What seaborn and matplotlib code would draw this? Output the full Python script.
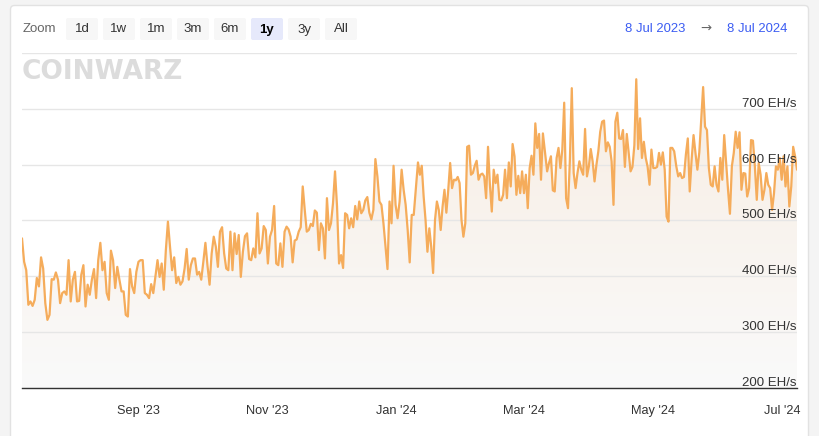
import numpy as np
import pandas as pd
import matplotlib
matplotlib.use("Agg")
import matplotlib.pyplot as plt
import matplotlib.dates as mdates
from matplotlib.patches import FancyBboxPatch
from matplotlib.colors import LinearSegmentedColormap
import seaborn as sns

# network hashrate (EH/s), in six reading windows
hash_jul_sep = [468, 426, 411, 349, 355, 347, 358, 397, 382, 434, 414, 352, 322, 331, 395, 394,
                407, 394, 352, 370, 373, 367, 429, 355, 394, 408, 355, 356, 403, 420, 346, 385,
                367, 394, 413, 361, 429, 460, 411, 426, 370, 358, 446, 429, 379, 417, 394, 373,
                373, 331, 328, 413, 382, 370, 408, 426, 429, 429, 370, 367, 361, 386, 370]
hash_sep_nov = [429, 399, 423, 376, 447, 498, 453, 411, 434, 388, 399, 385, 391, 414, 449, 394,
                420, 432, 432, 403, 408, 394, 426, 460, 419, 385, 441, 471, 453, 417, 480, 488,
                441, 414, 411, 480, 411, 477, 440, 474, 399, 444, 472, 477, 431, 429, 450, 434,
                513, 441, 450, 490, 483, 423, 471, 483, 526, 423, 420, 459, 417]
hash_nov_jan = [480, 489, 484, 471, 425, 464, 466, 480, 488, 561, 519, 480, 483, 494, 490, 518,
                514, 447, 495, 486, 432, 540, 483, 495, 531, 588, 525, 423, 438, 415, 513, 510,
                486, 504, 488, 526, 502, 534, 513, 519, 536, 542, 514, 502, 519, 610, 579, 534,
                528, 495, 453, 413, 534, 495, 598, 528, 504, 534, 591, 555, 528, 483, 425, 510, 510]
hash_jan_mar = [604, 582, 598, 543, 501, 444, 486, 453, 406, 501, 534, 519, 483, 525, 555, 514,
                555, 603, 558, 573, 572, 578, 567, 501, 471, 495, 632, 634, 582, 585, 598, 607,
                573, 582, 584, 579, 540, 632, 564, 516, 591, 567, 582, 537, 536, 546, 591, 540,
                604, 561, 637, 615, 546, 580, 549, 588, 549, 582, 522, 594, 616, 582, 674, 630,
                655, 573, 656]
hash_mar_may = [588, 603, 615, 554, 552, 612, 630, 594, 627, 711, 540, 522, 609, 737, 585, 558,
                585, 606, 591, 582, 664, 579, 597, 628, 606, 570, 600, 624, 659, 677, 679, 624,
                640, 632, 606, 528, 677, 693, 647, 646, 662, 596, 655, 621, 588, 596, 635, 753,
                628, 683, 612, 641, 612, 596, 564, 627, 594, 594, 596, 621, 600, 622, 591, 507,
                498, 630, 630, 624]
hash_may_jul = [597, 579, 585, 576, 578, 618, 647, 552, 609, 653, 621, 591, 622, 680, 739, 668,
                662, 594, 564, 561, 597, 564, 552, 612, 573, 653, 603, 555, 512, 597, 621, 659,
                630, 658, 555, 585, 584, 543, 558, 644, 643, 597, 537, 603, 582, 537, 555, 585,
                564, 558, 519, 549, 597, 591, 612, 573, 615, 561, 597, 525, 561, 632, 615, 591]

windows = [("2023-07-08", "2023-09-08"), ("2023-09-10", "2023-11-08"),
           ("2023-11-09", "2024-01-09"), ("2024-01-11", "2024-03-10"),
           ("2024-03-12", "2024-05-11"), ("2024-05-12", "2024-07-08")]

range_start, range_end = "2023-07-08", "2024-07-08"
y_ticks = [200, 300, 400, 500, 600, 700, 800]
y_labels = ["200 EH/s", "300 EH/s", "400 EH/s", "500 EH/s", "600 EH/s", "700 EH/s", ""]
x_ticks = ["2023-09-01", "2023-11-01", "2024-01-01", "2024-03-01", "2024-05-01", "2024-07-01"]
x_labels = ["Sep '23", "Nov '23", "Jan '24", "Mar '24", "May '24", "Jul '24"]
zoom_buttons = ["1d", "1w", "1m", "3m", "6m", "1y", "3y", "All"]
active_button = "1y"

frames = []
for vals, (d0, d1) in zip([hash_jul_sep, hash_sep_nov, hash_nov_jan,
                           hash_jan_mar, hash_mar_may, hash_may_jul], windows):
    frames.append(pd.DataFrame({"date": pd.date_range(d0, d1, periods=len(vals)),
                                "hashrate": vals}))
df = pd.concat(frames, ignore_index=True)

sns.set_style("white")
plt.rcParams["font.family"] = ["Liberation Sans", "DejaVu Sans"]

fig = plt.figure(figsize=(8.2, 4.36), dpi=100)
fig.patch.set_facecolor("#f4f4f4")

# card + toolbar, drawn in pixel space
bg = fig.add_axes([0, 0, 1, 1])
bg.set_xlim(0, 820)
bg.set_ylim(436, 0)
bg.axis("off")
bg.add_patch(FancyBboxPatch((10.5, 5.5), 798, 440, boxstyle="round,pad=0,rounding_size=4",
                            fc="white", ec="#e2e2e2", lw=1))
bg.text(23, 29.5, "Zoom", color="#666666", fontsize=9.5, va="center", ha="left")
for i, lab in enumerate(zoom_buttons):
    bx = 66 + i * 37
    on = lab == active_button
    bg.add_patch(FancyBboxPatch((bx, 18), 32, 22, boxstyle="round,pad=0,rounding_size=2",
                                fc="#e6e9fb" if on else "#f7f7f7", ec="none"))
    bg.text(bx + 16, 29.5, lab, color="#000000" if on else "#333333", fontsize=9.5,
            fontweight="bold" if on else "normal", ha="center", va="center")
bg.text(655, 28.5, "8 Jul 2023", color="#3b5cf2", fontsize=9.4, ha="center", va="center")
bg.text(706, 28.5, "\u2192", color="#666666", fontsize=9.5, ha="center", va="center",
        family="DejaVu Sans")
bg.text(757, 28.5, "8 Jul 2024", color="#3b5cf2", fontsize=9.4, ha="center", va="center")
bg.text(22, 72, "COINWARZ", color="#dcdcdc", fontsize=19, fontweight="heavy",
        family="DejaVu Sans", ha="left", va="center")

ax = fig.add_axes([22 / 820, 1 - 388 / 436, 775 / 820, 335 / 436])
ax.set_facecolor("none")

# soft gradient under the line
poly = ax.fill_between(df["date"], df["hashrate"], 200, facecolor="none", edgecolor="none")
x0 = mdates.date2num(pd.Timestamp(range_start))
x1 = mdates.date2num(pd.Timestamp(range_end))
cmap = LinearSegmentedColormap.from_list("fill", ["#fafafa", "#f7ece1"])
im = ax.imshow(np.linspace(0, 1, 256).reshape(-1, 1), extent=[x0, x1, 200, 800],
               origin="lower", aspect="auto", cmap=cmap, zorder=0.5)
im.set_clip_path(poly.get_paths()[0], transform=ax.transData)

sns.lineplot(data=df, x="date", y="hashrate", ax=ax, color="#f5ac5b", linewidth=1.6, zorder=3)

ax.set_xlim(pd.Timestamp(range_start), pd.Timestamp(range_end))
ax.set_ylim(200, 800)
ax.set_yticks(y_ticks)
ax.yaxis.grid(True, color="#e6e6e6", lw=1)
ax.set_axisbelow(True)
ax.tick_params(axis="y", length=0, labelleft=False)
for v, lab in zip(y_ticks, y_labels):
    ax.annotate(lab, xy=(1, v), xycoords=("axes fraction", "data"), xytext=(0, 1.5),
                textcoords="offset points", ha="right", va="baseline", fontsize=9.5,
                color="#333333", zorder=5)

ax.set_xticks(pd.to_datetime(x_ticks))
ax.set_xticklabels(x_labels)
ax.tick_params(axis="x", length=7, width=1, color="#333333", labelsize=9.2,
               labelcolor="#333333", pad=5)
ax.set_xlabel("")
ax.set_ylabel("")
for s in ["top", "left", "right"]:
    ax.spines[s].set_visible(False)
ax.spines["bottom"].set_color("#333333")
ax.spines["bottom"].set_linewidth(1)

fig.savefig("out.png", dpi=100, facecolor=fig.get_facecolor())
